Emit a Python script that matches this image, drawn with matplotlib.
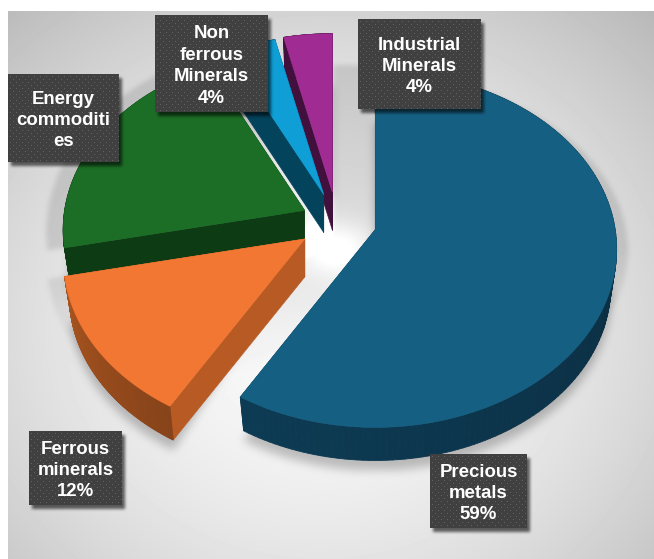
import numpy as np
import matplotlib
matplotlib.use('Agg')
import matplotlib.pyplot as plt
from matplotlib.collections import PolyCollection
from matplotlib.colors import to_rgb
from matplotlib.patches import Polygon, Rectangle
from matplotlib.path import Path

plt.rcParams['font.family'] = ['Liberation Sans', 'DejaVu Sans']

# Share of each commodity group, clockwise from twelve o'clock
categories = ['Precious metals', 'Ferrous minerals', 'Energy commodities',
              'Non ferrous Minerals', 'Industrial Minerals']
values = [59, 12, 21, 4, 4]
label_lines = [['Precious', 'metals', '59%'],
               ['Ferrous', 'minerals', '12%'],
               ['Energy', 'commoditi', 'es'],
               ['Non', 'ferrous', 'Minerals', '4%'],
               ['Industrial', 'Minerals', '4%']]
label_boxes = [(430, 454, 527, 528), (29, 431, 122, 505), (8, 74, 119, 162),
               (155, 15, 268, 112), (358, 19, 481, 109)]

explode = [0.165, 0.165, 0.15, 0.165, 0.17]
top_colors = ['#156082', '#F27733', '#1C6E26', '#0F9ED5', '#A02B93']
cut_colors = ['#0A2F42', '#B85A24', '#0D3B13', '#04435C', '#41103C']
rim_colors = [('#092434', '#0D3B54'), ('#87431A', '#A8541F'), ('#0D3B13', '#0D3B13'),
              ('#04435C', '#04435C'), ('#41103C', '#41103C')]
# small angular correction of the camera at each slice boundary, degrees
view_skew = [0, -1.8, 2.4, 2.8, 1.4, 0]

W, H = 654, 559
cx, cy = 337, 222
rx, ry, persp = 240, 176, 0.11
depth = 38
floor_scale = 0.975


def project(apex, theta, scale=(1, 1)):
    u, v = np.sin(theta), np.cos(theta)
    w = 1 + persp * v
    return apex[0] + scale[0] * rx * u / w, apex[1] - scale[1] * ry * v / w


def blur(a, size, passes=3):
    kernel = np.ones(size) / size
    for _ in range(passes):
        a = np.apply_along_axis(lambda r: np.convolve(r, kernel, mode='same'), 0, a)
        a = np.apply_along_axis(lambda r: np.convolve(r, kernel, mode='same'), 1, a)
    return a


def raster(points):
    yy, xx = np.mgrid[0:H, 0:W]
    grid = np.column_stack([xx.ravel() + 0.5, yy.ravel() + 0.5])
    return Path(points).contains_points(grid).reshape(H, W).astype(float)


# Wedge angles and exploded apex of every slice
edges = np.radians(np.concatenate([[0], np.cumsum(values)]) * 3.6 + view_skew)
slices = []
for i in range(len(values)):
    a0, a1 = edges[i], edges[i + 1]
    mid = (a0 + a1) / 2
    apex = (cx + explode[i] * rx * np.sin(mid), cy - explode[i] * ry * np.cos(mid))
    theta = np.linspace(a0, a1, 160)
    rim = np.column_stack(project(apex, theta))
    low = np.column_stack(project(apex, theta, (floor_scale, floor_scale))) + [0, depth]
    slices.append((apex, theta, rim, low))

# Page background with a soft radial falloff
yy, xx = np.mgrid[0:H, 0:W]
dist = np.hypot((xx - 320) / 470, (yy - 330) / 420)
bg = 250 - 62 * np.clip(dist, 0, 1.3) ** 1.7

# Wide shadow behind the pie, fading out towards the bottom
wide = np.zeros((H, W))
apex, theta, rim, low = slices[0]
shifted = (apex[0] - 42, apex[1])
wide = np.maximum(wide, raster(np.vstack([shifted, np.column_stack(project(shifted, theta, (1.22, 1.04)))])))
for i in (1, 2):
    apex, theta, rim, low = slices[i]
    wide = np.maximum(wide, raster(np.vstack([apex, np.column_stack(project(apex, theta, (1.07, 1.07)))])))
fade = np.clip((375 - yy) / 130, 0, 1)
bg = bg - 25 * blur(wide, 5) * fade

# Tight shadow right under each slice
contact = np.zeros((H, W))
for apex, theta, rim, low in slices:
    shape = np.vstack([apex, low]) + [0, 10]
    contact = np.maximum(contact, raster(shape))
bg = bg - 55 * blur(contact, 9)

# Bright glow where the slices meet
glow = np.exp(-(((xx - 335) / 38.0) ** 2 + ((yy - 248) / 26.0) ** 2))
bg = np.clip(bg + 40 * glow, 0, 255)

fig = plt.figure(figsize=(W / 100, H / 100), dpi=100, facecolor='white')
ax = fig.add_axes([0, 0, 1, 1])
ax.imshow(bg[11:, 8:] / 255, cmap='gray', vmin=0, vmax=1, extent=(8, W, H, 11),
          aspect='auto', interpolation='nearest', zorder=0)

# Slices: walls first, then the top face
draw_order = [4, 3, 2, 1, 0]
for z, i in enumerate(draw_order):
    apex, theta, rim, low = slices[i]
    base = 2 + z
    apex_low = (apex[0], apex[1] + depth)
    for p, q in ((rim[0], low[0]), (rim[-1], low[-1])):
        ax.add_patch(Polygon([apex, p, q, apex_low], facecolor=cut_colors[i],
                             edgecolor=cut_colors[i], linewidth=0.4, zorder=base))
    quads = [[rim[k], rim[k + 1], low[k + 1], low[k]] for k in range(len(rim) - 1)]
    mix = np.linspace(0, 1, len(quads))[:, None]
    shades = (1 - mix) * np.array(to_rgb(rim_colors[i][0])) + mix * np.array(to_rgb(rim_colors[i][1]))
    ax.add_collection(PolyCollection(quads, facecolors=shades, edgecolors=shades,
                                     linewidths=0.6, zorder=base + 0.2))
    ax.add_patch(Polygon(np.vstack([apex, rim]), facecolor=top_colors[i],
                         edgecolor=top_colors[i], linewidth=0.4, zorder=base + 0.5))

# Drop shadows of the label boxes fall on top of the pie
box_shadow = np.zeros((H, W))
for x0, y0, x1, y1 in label_boxes:
    box_shadow[y0 + 4:y1 + 4, x0 + 3:x1 + 3] = 1
overlay = np.zeros((H, W, 4))
overlay[..., 3] = 0.6 * blur(box_shadow, 3)
ax.imshow(overlay, extent=(0, W, H, 0), aspect='auto', interpolation='nearest', zorder=20)

# Dark label boxes with a fine dotted texture
for lines, (x0, y0, x1, y1) in zip(label_lines, label_boxes):
    ax.add_patch(Rectangle((x0, y0), x1 - x0, y1 - y0, facecolor='#404040',
                           edgecolor='none', zorder=21))
    ny, nx = y1 - y0, x1 - x0
    gy, gx = np.mgrid[0:ny, 0:nx]
    dots = np.zeros((ny, nx, 4))
    dots[..., :3] = 0.45
    dots[..., 3] = 0.7 * (((gx % 6 == 2) & (gy % 6 == 2)) | ((gx % 6 == 5) & (gy % 6 == 5)))
    ax.imshow(dots, extent=(x0, x1, y1, y0), aspect='auto', interpolation='bilinear', zorder=22)
    ax.text((x0 + x1) / 2, (y0 + y1) / 2 + 2.5, '\n'.join(lines), color='white', fontsize=13.4,
            fontweight='bold', ha='center', va='center', linespacing=1.34, zorder=23)

ax.set_xlim(0, W)
ax.set_ylim(H, 0)
ax.axis('off')

fig.savefig('out.png', dpi=100, facecolor='white')
